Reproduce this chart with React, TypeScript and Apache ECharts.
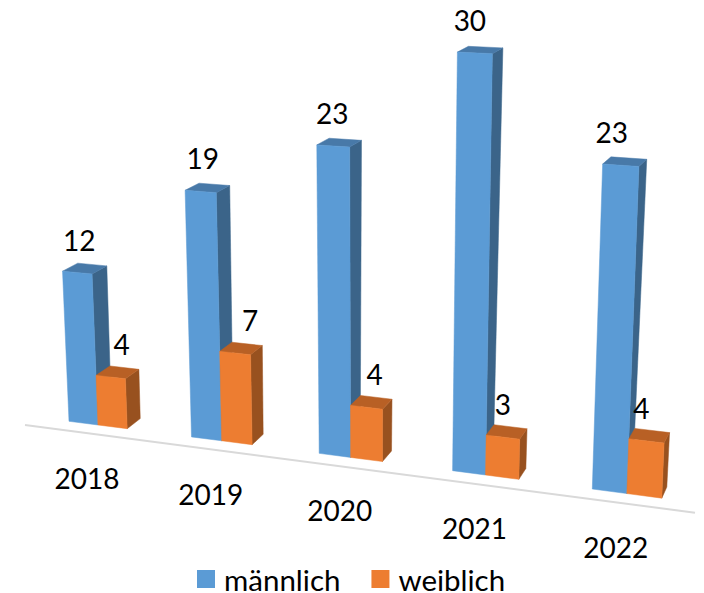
import React, { useEffect, useRef } from "react";
import * as echarts from "echarts";

const categories = ["2018", "2019", "2020", "2021", "2022"];
const maleValues = [12, 19, 23, 30, 23];
const femaleValues = [4, 7, 4, 3, 4];

const FONT = "Lato, 'Open Sans', sans-serif";
const GRID = { left: 100, top: 40, width: 500, height: 400 };
const BAND = GRID.width / categories.length;
const SPAN_X = BAND * (categories.length - 1);
const BAR = 0.24 * BAND;
const AXIS_MAX = 30;

// corners of the tilted front plane on the page
const Q = [
  [69, 421.3],
  [592.3, 489],
  [606, 59],
  [52.3, 33.5],
];
const dx1 = Q[1][0] - Q[2][0];
const dx2 = Q[3][0] - Q[2][0];
const sx = Q[0][0] - Q[1][0] + Q[2][0] - Q[3][0];
const dy1 = Q[1][1] - Q[2][1];
const dy2 = Q[3][1] - Q[2][1];
const sy = Q[0][1] - Q[1][1] + Q[2][1] - Q[3][1];
const det = dx1 * dy2 - dx2 * dy1;
const g = (sx * dy2 - dx2 * sy) / det;
const h = (dx1 * sy - sx * dy1) / det;
const a = Q[1][0] - Q[0][0] + g * Q[1][0];
const b = Q[3][0] - Q[0][0] + h * Q[3][0];
const d = Q[1][1] - Q[0][1] + g * Q[1][1];
const e = Q[3][1] - Q[0][1] + h * Q[3][1];

const norm = (p: number[]) => [
  (p[0] - (GRID.left + BAND / 2)) / SPAN_X,
  (GRID.top + GRID.height - p[1]) / GRID.height,
];
const front = (p: number[]) => {
  const [s, t] = norm(p);
  const w = g * s + h * t + 1;
  return [(a * s + b * t + Q[0][0]) / w + 10 * s * (1 - s), (d * s + e * t + Q[0][1]) / w];
};
const back = (p: number[]) => {
  const [s, t] = norm(p);
  const f = front(p);
  return [f[0] + 14 - 8 * s + 3 * t, f[1] - 10 - s + 5 * t];
};

const labelNudge = {
  male: [2, 2, -1, -5, -9],
  female: [11, 15, 8, 0, -5],
};

const poly = (points: number[][], fill: string) => ({
  type: "polygon",
  shape: { points },
  style: { fill, stroke: fill, lineWidth: 0.5 },
});

const barRenderer =
  (slot: number, colors: string[], nudge: number[]) => (params: any, api: any) => {
    const i = params.dataIndex;
    const value = api.value(1);
    const base = api.coord([i, 0]);
    const top = api.coord([i, value]);
    const x0 = base[0] + slot * BAR;
    const x1 = x0 + BAR;
    const pts = [
      [x0, base[1]],
      [x1, base[1]],
      [x1, top[1]],
      [x0, top[1]],
    ];
    const f = pts.map(front);
    const k = pts.map(back);
    const cx = (f[2][0] + f[3][0]) / 2;
    const cy = (f[2][1] + f[3][1]) / 2;
    return {
      type: "group",
      children: [
        poly([f[1], k[1], k[2], f[2]], colors[2]),
        poly([f[3], f[2], k[2], k[3]], colors[1]),
        poly(f, colors[0]),
        {
          type: "text",
          style: {
            text: String(value),
            x: cx + nudge[i],
            y: cy - 33,
            fill: "#000",
            font: `28px ${FONT}`,
            align: "center",
            verticalAlign: "middle",
          },
        },
      ],
    };
  };

const categoryRenderer = (params: any, api: any) => {
  const i = params.dataIndex;
  const base = api.coord([i, 0]);
  const p = front([base[0] + BAR, base[1]]);
  return {
    type: "text",
    style: {
      text: categories[i],
      x: p[0] - 11,
      y: p[1] + 53,
      fill: "#000",
      font: `28px ${FONT}`,
      align: "center",
      verticalAlign: "middle",
    },
  };
};

export default function App() {
  const ref = useRef<HTMLDivElement>(null);
  useEffect(() => {
    const chart = echarts.init(ref.current!, undefined, { renderer: "svg" });
    chart.setOption({
      animation: false,
      backgroundColor: "#ffffff",
      grid: GRID,
      xAxis: { type: "category", data: categories, show: false },
      yAxis: { type: "value", min: 0, max: AXIS_MAX, show: false },
      legend: {
        data: ["männlich", "weiblich"],
        left: 192,
        top: 559,
        icon: "rect",
        itemWidth: 18,
        itemHeight: 18,
        itemGap: 31,
        selectedMode: false,
        textStyle: {
          fontFamily: FONT,
          fontSize: 29.5,
          lineHeight: 24,
          color: "#000",
          padding: [0, 0, 0, 4],
        },
      },
      graphic: [
        {
          type: "line",
          z: 0,
          shape: { x1: 25, y1: 425, x2: 695, y2: 512.7 },
          style: { stroke: "#D9D9D9", lineWidth: 2 },
        },
      ],
      series: [
        {
          name: "männlich",
          type: "custom",
          z: 3,
          itemStyle: { color: "#5B9BD5" },
          data: categories.map((c, i) => [c, maleValues[i]]),
          renderItem: barRenderer(0, ["#5B9BD5", "#4879A8", "#3B6489"], labelNudge.male),
        },
        {
          name: "weiblich",
          type: "custom",
          z: 4,
          itemStyle: { color: "#ED7D31" },
          data: categories.map((c, i) => [c, femaleValues[i]]),
          renderItem: barRenderer(1, ["#ED7D31", "#B86025", "#98511F"], labelNudge.female),
        },
        {
          name: "Jahr",
          type: "custom",
          z: 2,
          data: categories.map((c) => [c, 0]),
          renderItem: categoryRenderer,
        },
      ],
    });
    return () => chart.dispose();
  }, []);
  return <div ref={ref} style={{ position: "absolute", left: 0, top: 0, width: 704, height: 593 }} />;
}
